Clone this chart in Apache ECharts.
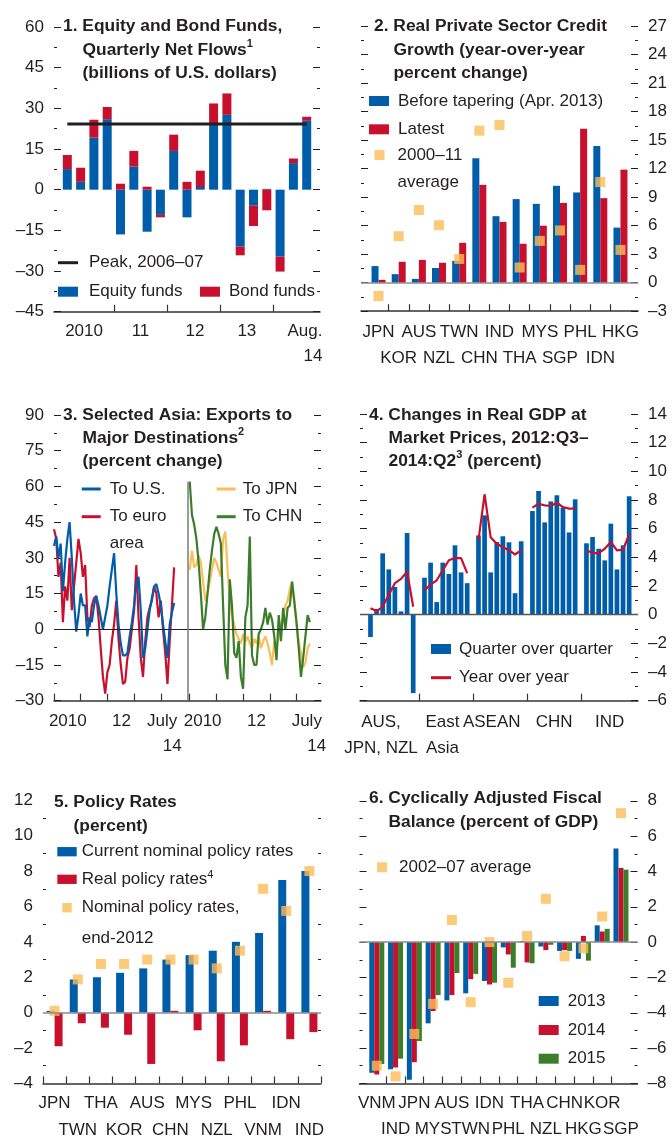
<!DOCTYPE html>
<html>
<head>
<meta charset="utf-8">
<script src="https://cdn.jsdelivr.net/npm/echarts@6/dist/echarts.min.js"></script>
<style>
html, body { margin: 0; padding: 0; background: #fff; }
#chart { width: 672px; height: 1143px; }
</style>
</head>
<body>
<div id="chart"></div>
<script>
// ---- panel 1: equity and bond fund flows, 2010:Q1 - 2014:Q3
const p1Quarters = ['2010:Q1','2010:Q2','2010:Q3','2010:Q4','2011:Q1','2011:Q2','2011:Q3','2011:Q4',
  '2012:Q1','2012:Q2','2012:Q3','2012:Q4','2013:Q1','2013:Q2','2013:Q3','2013:Q4','2014:Q1','2014:Q2','2014:Q3'];
const p1Equity = [7.6, 2.9, 19.2, 26.0, -16.5, 8.5, -15.5, -9.3, 14.3, -10.2, 1.0, 24.4, 27.6, -21.0, -5.9, 0.3, -24.7, 9.8, 25.4];
const p1Bond = [5.2, 5.2, 6.6, 4.5, 2.2, 5.8, 1.1, -0.9, 6.0, 2.9, 6.0, 7.4, 7.9, -3.2, -7.5, -7.6, -5.5, 1.7, 1.5];
const p1Peak = 24.2;
const p1YearLabels = ['2010', '11', '12', '13', 'Aug.\n{r|14}'];

// ---- panel 2: real private sector credit growth
const p2Countries = ['JPN','KOR','AUS','NZL','TWN','CHN','IND','THA','MYS','SGP','PHL','IDN','HKG'];
const p2Before = [1.75, 0.9, 0.4, 1.55, 2.3, 13.1, 7.0, 8.8, 8.3, 10.2, 9.5, 14.4, 5.8];
const p2Latest = [0.3, 2.2, 2.4, 2.1, 4.2, 10.3, 6.4, 4.1, 6.0, 8.4, 16.2, 8.9, 11.9];
const p2Avg = [-1.4, 4.9, 7.65, 6.05, 2.5, 16.0, 16.6, 1.6, 4.4, 5.5, 1.35, 10.6, 3.45];

// ---- panel 3: exports to major destinations, monthly Jan 2010 - Jul 2014
const p3US = [35,39,30,36,16,28,38,45,30,12,-1,6,15,10,10,-3,5,3,10,14,10,5,0,5,10,18,25,32,15,2,
  -6,-11,-11,-10,-3,3,10,20,22,8,-12,-8,0,8,13,18,19,15,10,2,-5,-12,2,7,11];
const p3Euro = [42,38,22,28,3,18,12,30,8,18,28,38,32,22,27,5,1,10,13,14,5,-8,-20,-27,-18,-15,-5,2,12,-4,
  -15,-23,-22,-12,-8,0,8,27,5,-12,-20,-5,5,9,12,18,15,5,12,0,-10,-23,-5,10,26];
const p3JPN = [25,33,26,27,31,28,20,12,15,20,25,30,28,25,22,38,41,25,13,6,2,-2,-4,-6,-2,-5,-3,-6,-8,-4,
  -6,-3,-8,-5,-3,-6,-10,-15,-5,-8,-3,2,5,10,12,17,20,10,2,-5,-10,-16,-14,-8,-6];
const p3CHN = [62,48,44,38,28,15,0,5,15,25,33,40,43,40,36,10,-15,-21,21,10,-10,-12,-5,-20,-25,5,10,39,-11,-15,
  -15,-2,0,3,9,2,7,4,-3,-13,6,-5,9,0,9,10,20,12,3,-8,-20,-12,-3,6,3];
const p3TickLabels = ['2010', '12', 'July\n{r|14}', '2010', '12', 'July\n{r|14}'];

// ---- panel 4: changes in real GDP, 2012:Q3 - 2014:Q2, by region
const p4Groups = ['AUS,\nJPN, NZL', 'East\nAsia', 'ASEAN', 'CHN', 'IND'];
const p4QoqAJN = [-1.56, 0.4, 4.28, 3.16, 1.93, 0.23, 5.7, -5.47];
const p4QoqEA = [2.58, 3.63, 0.88, 3.63, 2.84, 4.84, 2.95, 2.2];
const p4QoqASEAN = [5.53, 6.93, 2.95, 5.07, 5.47, 5.05, 1.5, 5.12];
const p4QoqCHN = [7.23, 8.63, 6.44, 7.9, 8.33, 7.47, 5.74, 8.05];
const p4QoqIND = [4.98, 5.42, 4.6, 3.79, 6.35, 3.16, 4.84, 8.26];
const p4YoyAJN = [0.45, 0.25, 0.55, 1.4, 2.2, 2.5, 3.0, 0.55];
const p4YoyEA = [1.7, 2.1, 2.4, 3.1, 3.8, 3.95, 3.95, 2.9];
const p4YoyASEAN = [5.2, 8.4, 5.4, 4.95, 4.7, 4.5, 4.2, 4.5];
const p4YoyCHN = [7.47, 7.74, 7.63, 7.58, 7.81, 7.51, 7.4, 7.4];
const p4YoyIND = [4.49, 4.3, 4.3, 4.6, 5.07, 4.49, 4.53, 5.6];

// ---- panel 5: policy rates
const p5Countries = ['JPN','TWN','THA','KOR','AUS','CHN','MYS','NZL','PHL','VNM','IDN','IND'];
const p5Current = [0.1, 1.875, 2.0, 2.25, 2.5, 3.0, 3.25, 3.5, 4.0, 4.5, 7.5, 8.0];
const p5Real = [-1.9, -0.6, -0.85, -1.25, -2.9, 0.1, -1.0, -2.75, -1.85, 0.1, -1.5, -1.1];
const p5End2012 = [0.1, 1.875, 2.75, 2.75, 3.0, 3.0, 3.0, 2.5, 3.5, 7.0, 5.75, 8.0];

// ---- panel 6: cyclically adjusted fiscal balance
const p6Countries = ['VNM','IND','JPN','MYS','AUS','TWN','IDN','PHL','THA','NZL','CHN','HKG','KOR','SGP'];
const p6Y2013 = [-7.4, -7.2, -7.8, -4.6, -3.3, -2.9, -2.2, -0.3, 0.05, -0.25, -0.5, -0.95, 0.95, 5.3];
const p6Y2014 = [-7.5, -7.1, -6.8, -3.9, -3.0, -2.1, -2.4, -0.7, -1.15, -0.45, -0.45, 0.35, 0.6, 4.2];
const p6Y2015 = [-6.9, -6.6, -5.6, -3.0, -1.75, -1.8, -2.3, -1.45, -1.2, -0.15, -0.5, -1.05, 0.75, 4.1];
const p6Avg = [-7.0, -7.6, -5.2, -3.5, 1.25, -3.4, 0.0, -2.3, 0.35, 2.45, -0.8, -0.35, 1.45, 7.3];

const FONT = "'Liberation Sans', Arial, sans-serif";
const INK = '#231f20';
const BLUE = '#005daa', RED = '#c8102e', YEL = '#fdbd57', GRN = '#3b7d2b';

const fmtNeg = v => (v < 0 ? '\u2013' + Math.abs(v) : String(v));
const xy = (arr, x0 = 0) => arr.map((v, i) => [i + x0, v]);
const range = (n, f) => Array.from({ length: n }, (_, i) => f(i));

const zeroLine = (color, width) => ({
  silent: true, symbol: 'none', label: { show: false },
  lineStyle: { color, width, type: 'solid' }, data: [{ yAxis: 0 }]
});

function yAxes(g, min, max, interval, labelSide) {
  return ['left', 'right'].map(side => ({
    type: 'value', gridIndex: g, min, max, interval, position: side,
    axisLine: { show: false, onZero: false }, splitLine: { show: false },
    axisTick: { inside: true, length: 7, lineStyle: { color: INK, width: 1 } },
    minorTick: { show: true, splitNumber: 2, length: 3, lineStyle: { color: INK, width: 1 } },
    axisLabel: { show: side === labelSide, margin: 10, color: INK, fontFamily: FONT, fontSize: 17, formatter: fmtNeg }
  }));
}

function xValue(g, min, max, ticks, labelAt, fmt, margin, lineHeight, padR) {
  return {
    type: 'value', gridIndex: g, min, max, position: 'bottom',
    axisLine: { show: true, onZero: false, lineStyle: { color: '#333', width: 1.5 } },
    axisTick: { show: true, inside: true, length: 7, customValues: ticks, lineStyle: { color: '#333', width: 1.2 } },
    splitLine: { show: false },
    axisLabel: {
      customValues: labelAt, formatter: fmt, margin, lineHeight, color: INK, fontFamily: FONT, fontSize: 17,
      verticalAlign: 'top', showMinLabel: true, showMaxLabel: true, hideOverlap: false,
      rich: { r: { padding: [0, 0, 0, padR || 0], fontFamily: FONT, fontSize: 17, color: INK, lineHeight } }
    }
  };
}

// second row of staggered country labels: an extra x axis with no line or ticks
function xLabelRow(g, min, max, labelAt, names, margin, lineHeight) {
  return {
    type: 'value', gridIndex: g, min, max, position: 'bottom',
    axisLine: { show: false, onZero: false }, axisTick: { show: false }, splitLine: { show: false },
    axisLabel: {
      customValues: labelAt, formatter: v => names[v], margin, lineHeight, verticalAlign: 'top',
      color: INK, fontFamily: FONT, fontSize: 17, showMinLabel: true, showMaxLabel: true, hideOverlap: false
    }
  };
}

const RICH_SUP = { fontFamily: FONT, fontSize: 11, color: INK, verticalAlign: 'top', lineHeight: 12 };

function ttl(text, left, top) {
  return {
    text, left, top, padding: 0,
    textStyle: {
      fontFamily: FONT, fontWeight: 'bold', fontSize: 17.4, lineHeight: 23.3, color: INK,
      rich: {
        i: { width: 19.5, fontSize: 17.4, lineHeight: 23.3 },
        s: { fontFamily: FONT, fontWeight: 'bold', fontSize: 11, color: INK, verticalAlign: 'top', lineHeight: 16 }
      }
    }
  };
}

function lg(name, left, cy, o = {}) {
  const lines = o.lines || 1, lh = o.lh || 20;
  const padTop = lh * (lines - 1);
  const blockH = lh * lines + padTop;
  const l = {
    data: [name], left, top: cy - blockH / 2, orient: 'vertical', padding: 0,
    selectedMode: false, itemWidth: o.w || 20, itemHeight: o.h || 10, icon: 'rect',
    textStyle: {
      color: INK, fontFamily: FONT, fontSize: 17, lineHeight: lh,
      padding: [padTop, 0, 0, o.gap == null ? 4 : o.gap],
      rich: { s: RICH_SUP }
    }
  };
  if (o.fmt) l.formatter = o.fmt;
  return l;
}

// panel 4 bar slots: 8 quarters per region, regions spaced by a stride
const P4_STRIDE = 8.85;
const p4Qoq = [p4QoqAJN, p4QoqEA, p4QoqASEAN, p4QoqCHN, p4QoqIND];
const p4Yoy = [p4YoyAJN, p4YoyEA, p4YoyASEAN, p4YoyCHN, p4YoyIND];
const p4LabelAt = [1.72, 11.8, 19.87, 30.1, 39.2];

// panel 3: right-hand block starts 61 months after the left one
const P3_SHIFT = 61;
const p3TickAt = [0, 12, 24, 36, 48, 61, 73, 85, 97, 109];
const p3LabelAt = [6.2, 30.3, 48.6, 66.8, 91, 113.6];
const p1LabelAt = [1.26, 5.5, 9.6, 13.5, 17.87];

const evens = n => range(n, i => i).filter(i => i % 2 === 0);
const odds = n => range(n, i => i).filter(i => i % 2 === 1);
const P2_MIN = -0.87, P2_MAX = p2Countries.length - 0.13;
const P6_MIN = -0.92, P6_MAX = p6Countries.length - 0.12;

// stacked bars on a value base axis: value first so it is the stacked dimension
const p1Bar = (name, vals, color) => ({
  name, type: 'bar', xAxisIndex: 0, yAxisIndex: 0, stack: 'flows', barWidth: 9, color,
  encode: { x: 1, y: 0 }, data: vals.map((v, i) => [v, i])
});

const option = {
  animation: false,
  backgroundColor: '#fff',
  title: [
    ttl('1. Equity and Bond Funds,\n{i| }Quarterly Net Flows{s|1}\n{i| }(billions of U.S. dollars)', 63, 15),
    ttl('2. Real Private Sector Credit\n{i| }Growth (year-over-year\n{i| }percent change)', 374, 15),
    ttl('3. Selected Asia: Exports to\n{i| }Major Destinations{s|2}\n{i| }(percent change)', 63, 403.3),
    ttl('4. Changes in Real GDP at\n{i| }Market Prices, 2012:Q3\u2013\n{i| }2014:Q2{s|3} (percent)', 369, 403.3),
    ttl('5. Policy Rates\n{i| }(percent)', 54, 791),
    ttl('6. Cyclically Adjusted Fiscal\n{i| }Balance (percent of GDP)', 369, 787)
  ],
  legend: [
    lg('Peak, 2006\u201307', 58, 262.7, { h: 3, gap: 6 }),
    lg('Equity funds', 58, 291.7, { gap: 6 }),
    lg('Bond funds', 200, 291.7, { gap: 4 }),
    lg('Before tapering (Apr. 2013)', 369, 101, { gap: 4 }),
    lg('Latest', 369, 129.3, { gap: 4 }),
    lg('2000\u201311 average', 374.5, 155, { w: 10, h: 10, lines: 2, lh: 27, gap: 8, fmt: '2000\u201311\naverage' }),
    lg('To U.S.', 81.7, 489, { w: 19, h: 3, gap: 4 }),
    lg('To euro area', 81.7, 516.7, { w: 19, h: 3, lines: 2, lh: 27, gap: 4, fmt: 'To euro\narea' }),
    lg('To JPN', 216.7, 489, { w: 19, h: 3, gap: 2 }),
    lg('To CHN', 216.7, 516.7, { w: 19, h: 3, gap: 2 }),
    lg('Quarter over quarter', 431, 649, { gap: 3 }),
    lg('Year over year', 431, 677.7, { h: 3, gap: 3 }),
    lg('Current nominal policy rates', 57.3, 851.7, { w: 19.4, h: 9.3, gap: 0 }),
    lg('Real policy rates', 57.3, 879.3, { w: 19.4, h: 9.3, gap: 0, fmt: 'Real policy rates{s|4}' }),
    lg('Nominal policy rates, end-2012', 62.3, 907.7, { w: 9.4, h: 9.4, lines: 2, lh: 30.6, gap: 5, fmt: 'Nominal policy rates,\nend-2012' }),
    lg('2002\u201307 average', 377, 867.3, { w: 10, h: 10, gap: 7 }),
    lg('2013', 538.7, 1001, { gap: 4 }),
    lg('2014', 538.7, 1030, { gap: 4 }),
    lg('2015', 538.7, 1058.7, { gap: 4 })
  ],
  grid: [
    { left: 54, top: 27, width: 266, height: 284.7 },
    { left: 361, top: 26.2, width: 277, height: 285 },
    { left: 54, top: 415, width: 267, height: 285.7 },
    { left: 360, top: 414, width: 278, height: 286.7 },
    { left: 43, top: 800.3, width: 278, height: 287.4 },
    { left: 359.5, top: 800.8, width: 278, height: 286.5 }
  ],
  xAxis: [
    xValue(0, -1, p1Quarters.length, [3.5, 7.5, 11.5, 15.5], p1LabelAt,
      v => p1YearLabels[p1LabelAt.indexOf(v)], 7, 25, 16),
    xValue(1, P2_MIN, P2_MAX, range(p2Countries.length - 1, i => i + 0.5),
      evens(p2Countries.length), v => p2Countries[v], 7.5, 26.3),
    xValue(2, 0, 120, p3TickAt, p3LabelAt, v => p3TickLabels[p3LabelAt.indexOf(v)], 8, 25, 20),
    xValue(3, -1.72, 43.85, range(p4Groups.length - 1, i => (i + 1) * P4_STRIDE - 0.93), p4LabelAt,
      v => p4Groups[p4LabelAt.indexOf(v)], 8, 26.3),
    {
      type: 'category', gridIndex: 4, data: p5Countries, boundaryGap: true,
      axisLine: { show: true, onZero: false, lineStyle: { color: '#333', width: 1.5 } },
      axisTick: { show: true, inside: true, length: 7, interval: 0, lineStyle: { color: '#333', width: 1.2 } },
      axisLabel: {
        interval: 0, margin: 7, lineHeight: 26.3, verticalAlign: 'top', color: INK, fontFamily: FONT, fontSize: 17,
        showMinLabel: true, showMaxLabel: true, hideOverlap: false,
        formatter: (v, i) => (i % 2 ? '\n' : '') + v
      }
    },
    xValue(5, P6_MIN, P6_MAX, range(p6Countries.length - 1, i => i + 0.5), evens(p6Countries.length),
      v => p6Countries[v], 6.4, 26.6),
    xLabelRow(1, P2_MIN, P2_MAX, odds(p2Countries.length), p2Countries, 7.5 + 26.3, 26.3),
    xLabelRow(5, P6_MIN, P6_MAX, odds(p6Countries.length), p6Countries, 6.4 + 26.6, 26.6)
  ],
  yAxis: [
    ...yAxes(0, -45, 60, 15, 'left'),
    ...yAxes(1, -3, 27, 3, 'right'),
    ...yAxes(2, -30, 90, 15, 'left'),
    ...yAxes(3, -6, 14, 2, 'right'),
    ...yAxes(4, -4, 12, 2, 'left'),
    ...yAxes(5, -8, 8, 2, 'right')
  ],
  series: [
    // panel 1
    p1Bar('Equity funds', p1Equity, BLUE),
    p1Bar('Bond funds', p1Bond, RED),
    { name: 'Peak, 2006\u201307', type: 'line', xAxisIndex: 0, yAxisIndex: 0, symbol: 'none', color: INK,
      lineStyle: { color: INK, width: 3 }, data: [[0, p1Peak], [p1Quarters.length - 1, p1Peak]] },
    // panel 2
    { name: 'Before tapering (Apr. 2013)', type: 'bar', xAxisIndex: 1, yAxisIndex: 2, barWidth: 7, barGap: '0%',
      color: BLUE, data: xy(p2Before), markLine: zeroLine('#8c8c8c', 1.5) },
    { name: 'Latest', type: 'bar', xAxisIndex: 1, yAxisIndex: 2, barWidth: 7, barGap: '0%',
      color: RED, data: xy(p2Latest) },
    { name: '2000\u201311 average', type: 'scatter', xAxisIndex: 1, yAxisIndex: 2, symbol: 'rect', symbolSize: 10,
      color: YEL, data: xy(p2Avg) },
    // panel 3
    { name: 'To euro area', type: 'line', xAxisIndex: 2, yAxisIndex: 4, symbol: 'none', color: RED,
      lineStyle: { width: 2.2 }, data: xy(p3Euro),
      markLine: zeroLine(INK, 1) },
    { name: 'To U.S.', type: 'line', xAxisIndex: 2, yAxisIndex: 4, symbol: 'none', color: BLUE,
      lineStyle: { width: 2.2 }, data: xy(p3US),
      markLine: {
        silent: true, symbol: 'none', label: { show: false },
        lineStyle: { color: '#7a7a7a', width: 1.5, type: 'solid' },
        data: [[{ coord: [P3_SHIFT - 0.7, -30] }, { coord: [P3_SHIFT - 0.7, 62] }]]
      } },
    { name: 'To JPN', type: 'line', xAxisIndex: 2, yAxisIndex: 4, symbol: 'none', color: YEL,
      lineStyle: { width: 2.2 }, data: xy(p3JPN, P3_SHIFT) },
    { name: 'To CHN', type: 'line', xAxisIndex: 2, yAxisIndex: 4, symbol: 'none', color: GRN,
      lineStyle: { width: 2.2 }, data: xy(p3CHN, P3_SHIFT) },
    // panel 4
    { name: 'Quarter over quarter', type: 'bar', xAxisIndex: 3, yAxisIndex: 6, barWidth: 4.7, color: BLUE,
      data: p4Qoq.flatMap((grp, g) => grp.map((v, q) => [g * P4_STRIDE + q, v])),
      markLine: zeroLine('#555', 1.3) },
    ...p4Yoy.map((grp, g) => ({
      name: 'Year over year', type: 'line', xAxisIndex: 3, yAxisIndex: 6, symbol: 'none', color: RED,
      lineStyle: { width: 2.2 }, data: grp.map((v, q) => [g * P4_STRIDE + q, v])
    })),
    // panel 5
    { name: 'Current nominal policy rates', type: 'bar', xAxisIndex: 4, yAxisIndex: 8, barWidth: 8, barGap: '0%',
      color: BLUE, data: p5Current, markLine: zeroLine('#8c8c8c', 1.5) },
    { name: 'Real policy rates', type: 'bar', xAxisIndex: 4, yAxisIndex: 8, barWidth: 8, barGap: '0%',
      color: RED, data: p5Real },
    { name: 'Nominal policy rates, end-2012', type: 'scatter', xAxisIndex: 4, yAxisIndex: 8, symbol: 'rect',
      symbolSize: 10, color: YEL, data: p5End2012 },
    // panel 6
    { name: '2013', type: 'bar', xAxisIndex: 5, yAxisIndex: 10, barWidth: 5, barGap: '0%', color: BLUE,
      data: xy(p6Y2013), markLine: zeroLine('#8c8c8c', 1.5) },
    { name: '2014', type: 'bar', xAxisIndex: 5, yAxisIndex: 10, barWidth: 5, barGap: '0%', color: RED,
      data: xy(p6Y2014) },
    { name: '2015', type: 'bar', xAxisIndex: 5, yAxisIndex: 10, barWidth: 5, barGap: '0%', color: GRN,
      data: xy(p6Y2015) },
    { name: '2002\u201307 average', type: 'scatter', xAxisIndex: 5, yAxisIndex: 10, symbol: 'rect', symbolSize: 10,
      color: YEL, data: xy(p6Avg) }
  ]
};

const chart = echarts.init(document.getElementById('chart'), null, { renderer: 'canvas' });
chart.setOption(option);
</script>
</body>
</html>
